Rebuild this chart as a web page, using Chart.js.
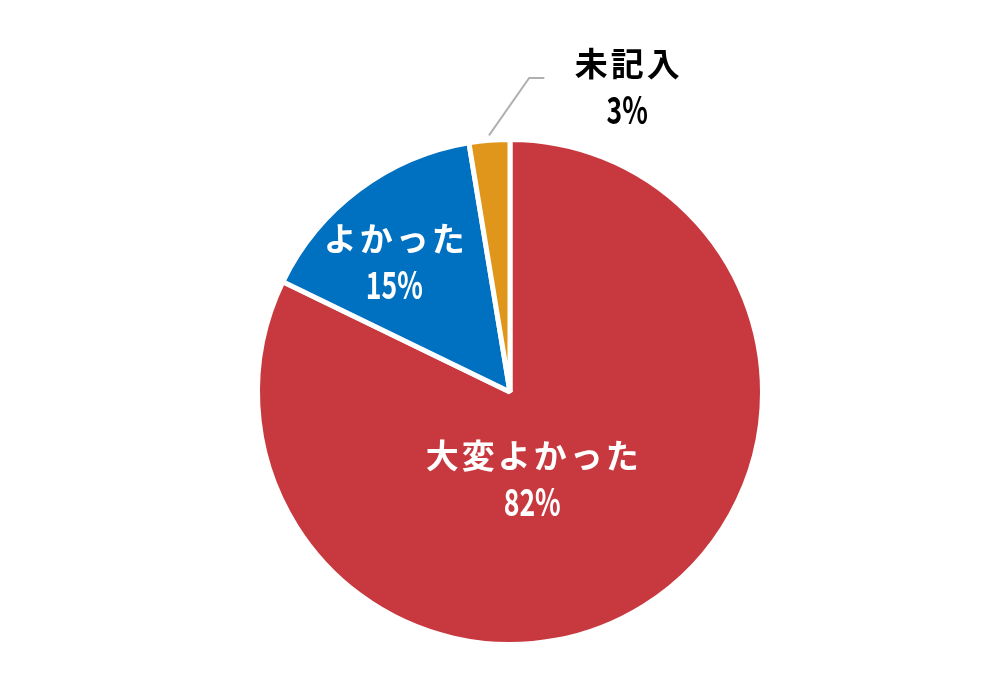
<!DOCTYPE html>
<html><head><meta charset="utf-8">
<script src="https://cdn.jsdelivr.net/npm/chart.js@4"></script>
<style>html,body{margin:0;padding:0;background:#fff;}#wrap{width:1000px;height:680px;}</style>
</head><body><div id="wrap"><canvas id="c" width="1000" height="680"></canvas></div>
<script>
const categories = ['大変よかった', 'よかった', '未記入'];
const values = [82.2, 15.2, 2.6];
const percentLabels = ['82%', '15%', '3%'];
const colors = ['#C8393F', '#0070C0', '#E0961A'];

// label anchor in units of radius, relative to pie centre (styling only)
const labelAnchors = [[0.088, 0.338], [-0.458, -0.522], [0.464, -1.214]];
const labelColors = ['#fff', '#fff', '#000'];

const labelPlugin = {
  id: 'sliceLabels',
  afterDatasetsDraw(chart) {
    const ctx = chart.ctx;
    const meta = chart.getDatasetMeta(0);
    meta.data.forEach((arc, i) => {
      const r = arc.outerRadius;
      const cx = arc.x + labelAnchors[i][0] * r;
      const cy = arc.y + labelAnchors[i][1] * r;
      ctx.save();
      ctx.fillStyle = labelColors[i];
      ctx.textAlign = 'center';
      ctx.textBaseline = 'middle';
      ctx.font = 'bold 33px "Noto Sans CJK JP"';
      ctx.letterSpacing = '3px';
      ctx.fillText(categories[i], cx + 1.5, cy - 22);
      ctx.restore();
      ctx.save();
      ctx.fillStyle = labelColors[i];
      ctx.textAlign = 'center';
      ctx.textBaseline = 'middle';
      ctx.font = 'bold 38px "Noto Sans CJK JP"';
      ctx.translate(cx, cy + 24);
      ctx.scale(0.7, 1);
      ctx.fillText(percentLabels[i], 0, 0);
      ctx.restore();
      if (i === 2) {
        const mid = (arc.startAngle + arc.endAngle) / 2;
        const sx = arc.x + Math.cos(mid) * (r + 5);
        const sy = arc.y + Math.sin(mid) * (r + 5);
        ctx.save();
        ctx.strokeStyle = '#B0B0B0';
        ctx.lineWidth = 2;
        ctx.beginPath();
        ctx.moveTo(sx, sy);
        ctx.lineTo(arc.x + 0.076 * r, arc.y - 1.244 * r);
        ctx.lineTo(arc.x + 0.136 * r, arc.y - 1.244 * r);
        ctx.stroke();
        ctx.restore();
      }
    });
  }
};

new Chart(document.getElementById('c'), {
  type: 'pie',
  data: {
    labels: categories,
    datasets: [{
      data: values,
      backgroundColor: colors,
      borderColor: '#ffffff',
      borderWidth: 5
    }]
  },
  options: {
    responsive: false,
    animation: false,
    layout: { padding: { left: 255, right: 235, top: 137, bottom: 33 } },
    plugins: { legend: { display: false }, tooltip: { enabled: false } }
  },
  plugins: [labelPlugin]
});
</script>
</body></html>
